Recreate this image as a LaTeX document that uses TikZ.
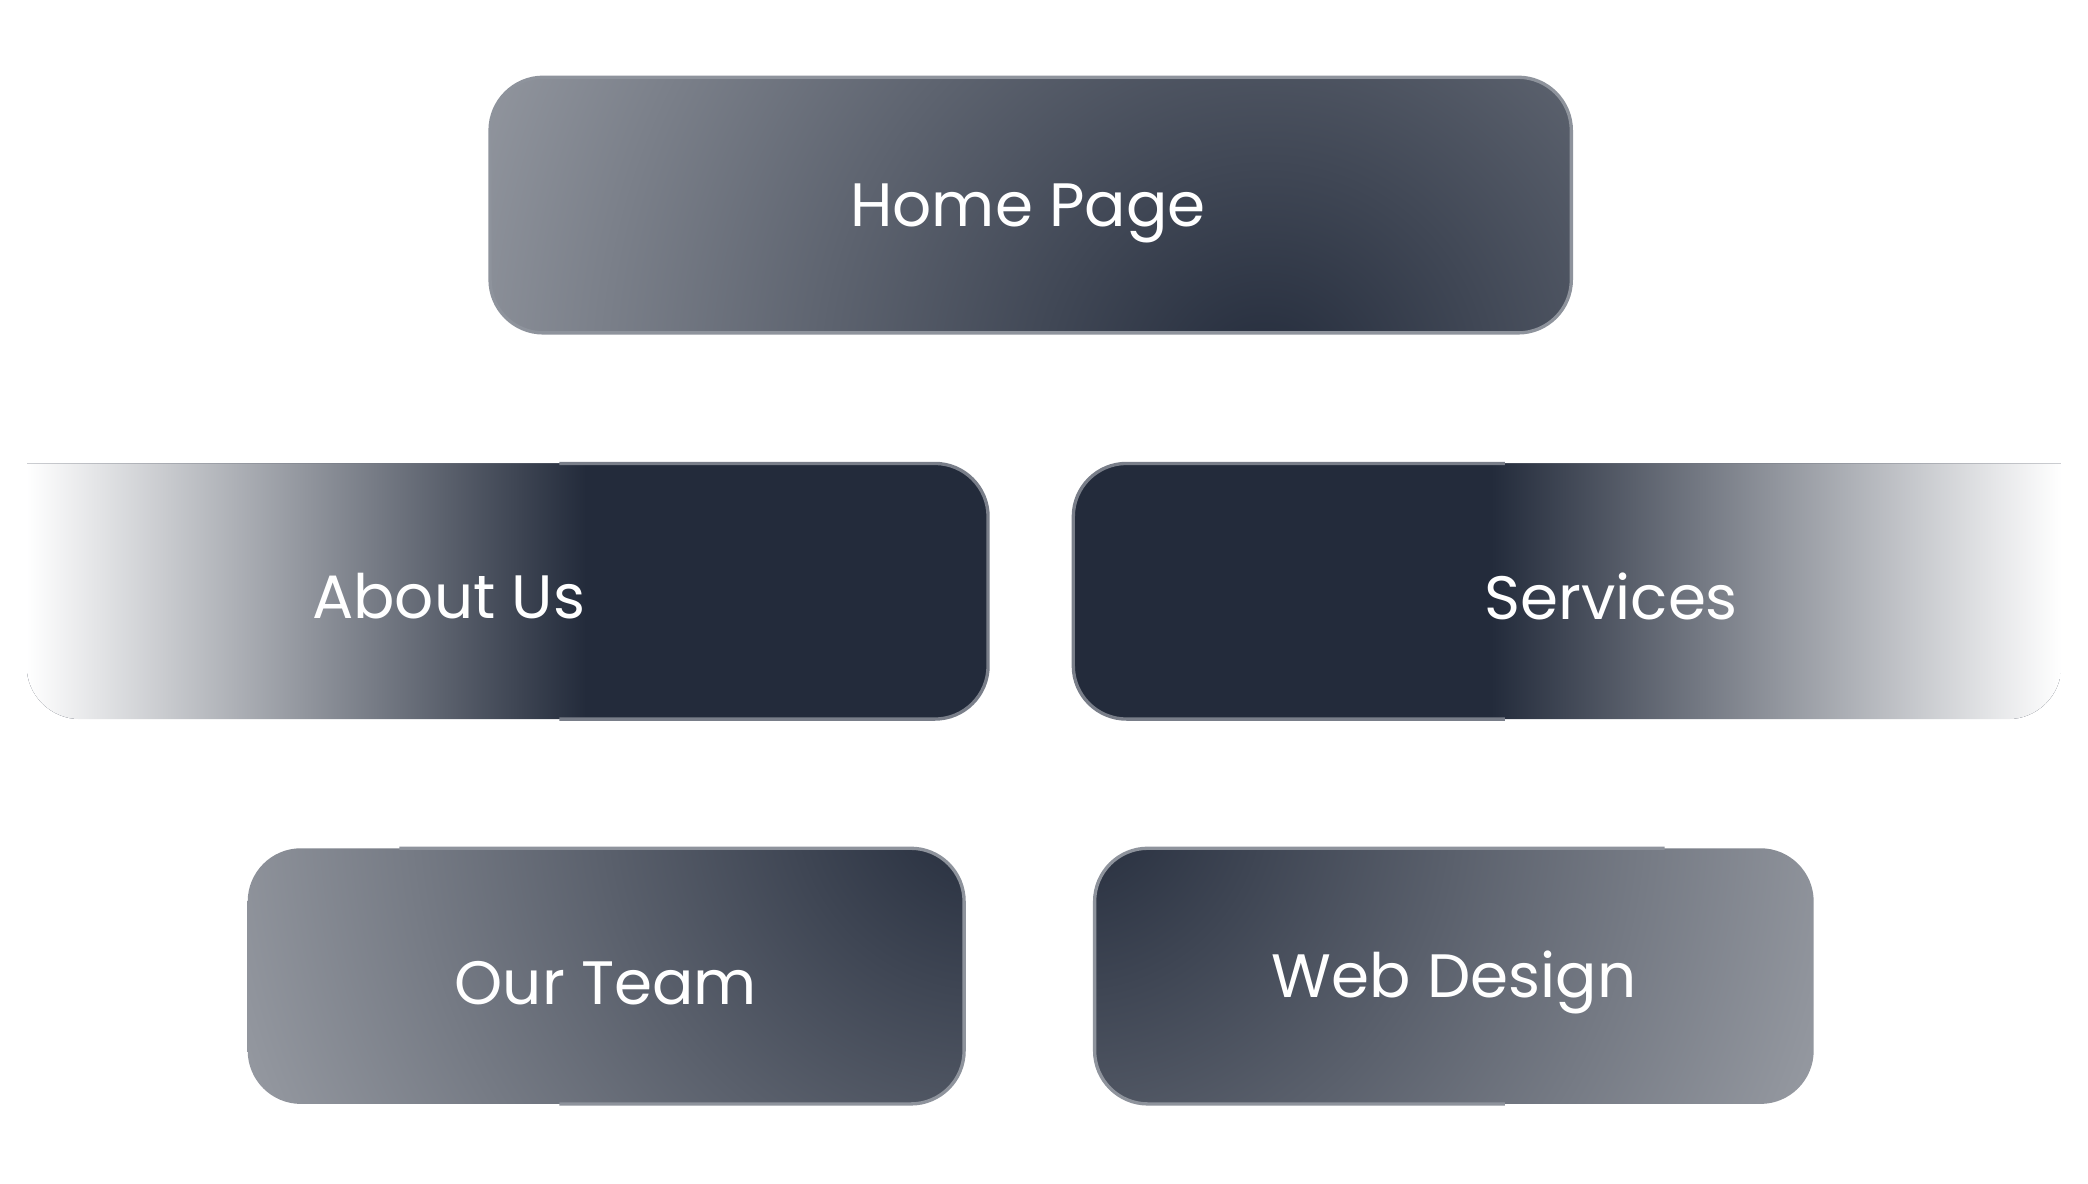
\documentclass[tikz,border=0pt]{standalone}
\usepackage{fontspec}
\setmainfont{Poppins}
\definecolor{dk}{HTML}{232B3B}
\definecolor{lt}{HTML}{D2D4D8}
\definecolor{bd}{HTML}{8E939C}
\tikzset{lbl/.style={text=white,font=\fontsize{46}{54}\selectfont},
 edge/.style={draw=bd,line width=2.5pt}}
\begin{document}
\begin{tikzpicture}[x=1pt,y=-1pt]
\useasboundingbox[fill=white] (0,0) rectangle (1568,889);
% Home Page
\begin{scope}
\clip[rounded corners=40] (368,58) rectangle (1180,250);
\fill[lt] (368,58) rectangle (1180,250);
\shade[inner color=dk,outer color=lt] (950,290) circle (1000);
\end{scope}
\draw[edge,rounded corners=40] (368,58) rectangle (1180,250);
\node[lbl] (home) at (772,160) {Home Page};
% About Us
\begin{scope}
\clip[rounded corners=40] (20,348) -- (742,348) -- (742,540) -- (20,540) [sharp corners] -- cycle;
\fill[dk] (20,348) rectangle (742,540);
\shade[left color=white,right color=dk] (20,348) rectangle (440,540);
\end{scope}
\draw[edge,draw=bd!80!dk,rounded corners=40] (420,348) -- (742,348) -- (742,540) -- (420,540);
\node[lbl] (about) at (337,448) {About Us};
% Services
\begin{scope}
\clip[rounded corners=40] (1548,348) -- (806,348) -- (806,540) -- (1548,540) [sharp corners] -- cycle;
\fill[dk] (806,348) rectangle (1548,540);
\shade[left color=dk,right color=white] (1120,348) rectangle (1548,540);
\end{scope}
\draw[edge,draw=bd!80!dk,rounded corners=40] (1130,348) -- (806,348) -- (806,540) -- (1130,540);
\node[lbl] (serv) at (1210,448) {Services};
% Our Team
\begin{scope}
\clip[rounded corners=40] (186,637) rectangle (724,829);
\fill[white] (186,637) rectangle (724,829);
\shade[inner color=dk,outer color=white] (740,600) circle (1150);
\end{scope}
\draw[edge,rounded corners=40] (300,637) -- (724,637) -- (724,829) -- (420,829);
\node[lbl] (team) at (455,738) {Our Team};
% Web Design
\begin{scope}
\clip[rounded corners=40] (822,637) rectangle (1362,829);
\fill[white] (822,637) rectangle (1362,829);
\shade[inner color=dk,outer color=white] (805,600) circle (1150);
\end{scope}
\draw[edge,rounded corners=40] (1250,637) -- (822,637) -- (822,829) -- (1130,829);
\node[lbl] (web) at (1092,738) {Web Design};
\end{tikzpicture}
\end{document}
